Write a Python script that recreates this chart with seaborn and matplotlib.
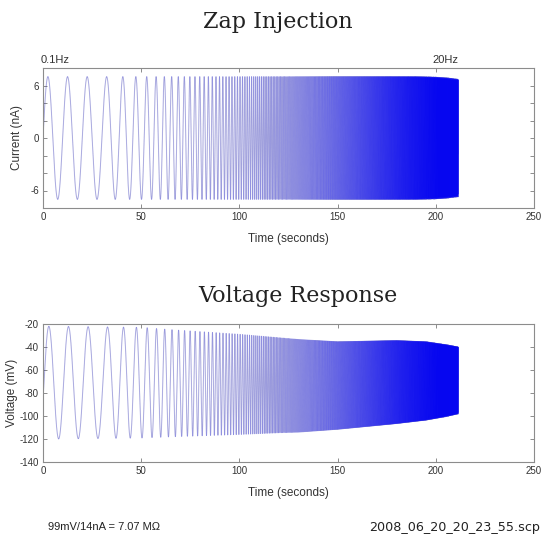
import numpy as np
import pandas as pd
import matplotlib
matplotlib.use("Agg")
import matplotlib.pyplot as plt
import seaborn as sns

# ---- data ----
# ZAP sweep: frequency knots (time s, frequency Hz), from 0.1 Hz to 20 Hz
sweep_t = [0, 30, 50, 80, 100, 130, 160, 185, 211.5]
sweep_hz = [0.1, 0.1, 0.18, 0.43, 0.77, 1.85, 4.4, 9.2, 20.0]
zap_end = 211.5

# current amplitude envelope (nA)
cur_env_t = [0, 190, 200, 206, 211.5]
cur_env = [7.0, 7.0, 6.95, 6.85, 6.7]

# voltage response envelope (mV)
v_env_t = [0, 50, 65, 100, 120, 130, 150, 165, 180, 195, 205, 211.5]
v_upper = [-22, -23, -25, -29, -32, -33.5, -35.5, -35, -34.5, -35.5, -38, -40]
v_lower = [-120, -119, -118, -116, -114.5, -114, -111.5, -109, -106.5,
           -103.5, -100.5, -98]

x_ticks = [0, 50, 100, 150, 200, 250]
cur_ticks = [-6, -4, -2, 0, 2, 4, 6]
cur_labels = ["-6", "", "", "0", "", "", "6"]
v_ticks = [-140, -120, -100, -80, -60, -40, -20]

# ---- build the traces ----
t = np.linspace(0, zap_end, 80000)
dt = t[1] - t[0]
freq = np.exp(np.interp(t, sweep_t, np.log(sweep_hz)))
phase = 2 * np.pi * np.cumsum(freq) * dt
current = np.interp(t, cur_env_t, cur_env) * np.sin(phase)
up = np.interp(t, v_env_t, v_upper)
lo = np.interp(t, v_env_t, v_lower)
vphase = phase - 0.3
voltage = (up + lo) / 2 + (up - lo) / 2 * np.sin(vphase)

# one unit per half cycle (peak to trough) so that overlapping strokes add up
cur_unit = np.floor((phase - np.pi / 2) / np.pi).astype(int)
v_unit = np.floor((vphase - np.pi / 2) / np.pi).astype(int)

df = pd.DataFrame({"t": t, "current": current, "voltage": voltage,
                   "cu": cur_unit, "vu": v_unit})

sns.set_style("ticks")
plt.rcParams["font.family"] = ["Liberation Sans", "DejaVu Sans"]

W, H = 544, 541
fig = plt.figure(figsize=(W / 100, H / 100), dpi=100)

def axbox(l, r, top, bot):
    return [l / W, 1 - bot / H, (r - l) / W, (bot - top) / H]

line_col = "#0606f6"
shade_col = "#5a5a7a"
frame_col = "#8c8c8c"

ax1 = fig.add_axes(axbox(43, 534, 68, 208))
ax2 = fig.add_axes(axbox(43, 534, 324, 462))

for ax, ycol, ucol in ((ax1, "current", "cu"), (ax2, "voltage", "vu")):
    # faint greyish base trace
    sns.lineplot(data=df, x="t", y=ycol, ax=ax, color=shade_col,
                 linewidth=0.6, alpha=0.3, estimator=None, sort=False)
    # blue half-cycles that build up to solid blue where the sweep is dense
    sns.lineplot(data=df, x="t", y=ycol, units=ucol, ax=ax, color=line_col,
                 linewidth=0.8, alpha=0.18, estimator=None, sort=False)

for ax in (ax1, ax2):
    ax.set_xlim(0, 250)
    ax.set_xticks(x_ticks)
    ax.set_xticklabels([str(v) for v in x_ticks])
    for s in ax.spines.values():
        s.set_visible(True)
        s.set_color(frame_col)
        s.set_linewidth(0.8)
    ax.tick_params(direction="in", top=True, right=True, length=3,
                   width=0.7, color=frame_col, labelsize=7,
                   labelcolor="#333333", pad=3)
    ax.set_xlabel("Time (seconds)", fontsize=8.5, color="#333333", labelpad=8)

ax1.set_ylim(-8, 8)
ax1.set_yticks(cur_ticks)
ax1.set_yticklabels(cur_labels)
ax1.set_ylabel("Current (nA)", fontsize=8.5, color="#333333", labelpad=5)

ax2.set_ylim(-140, -20)
ax2.set_yticks(v_ticks)
ax2.set_yticklabels([str(v) for v in v_ticks])
ax2.set_ylabel("Voltage (mV)", fontsize=8.5, color="#333333", labelpad=1)

fig.text(277.5 / W, 1 - 22 / H, "Zap Injection", family="DejaVu Serif",
         fontsize=16, ha="center", va="center", color="#222222")
fig.text(297.5 / W, 1 - 296 / H, "Voltage Response", family="DejaVu Serif",
         fontsize=16, ha="center", va="center", color="#222222")
fig.text(55 / W, 1 - 60 / H, "0.1Hz", fontsize=8, ha="center", va="center",
         color="#333333")
fig.text(445 / W, 1 - 60 / H, "20Hz", fontsize=8, ha="center", va="center",
         color="#333333")
fig.text(48 / W, 1 - 527 / H, "99mV/14nA = 7.07 M\u03a9", fontsize=8,
         ha="left", va="center", color="#222222")
fig.text(540 / W, 1 - 527 / H, "2008_06_20_20_23_55.scp", family="DejaVu Sans",
         fontsize=9.2, ha="right", va="center", color="#222222")

fig.savefig("out.png", dpi=100)
